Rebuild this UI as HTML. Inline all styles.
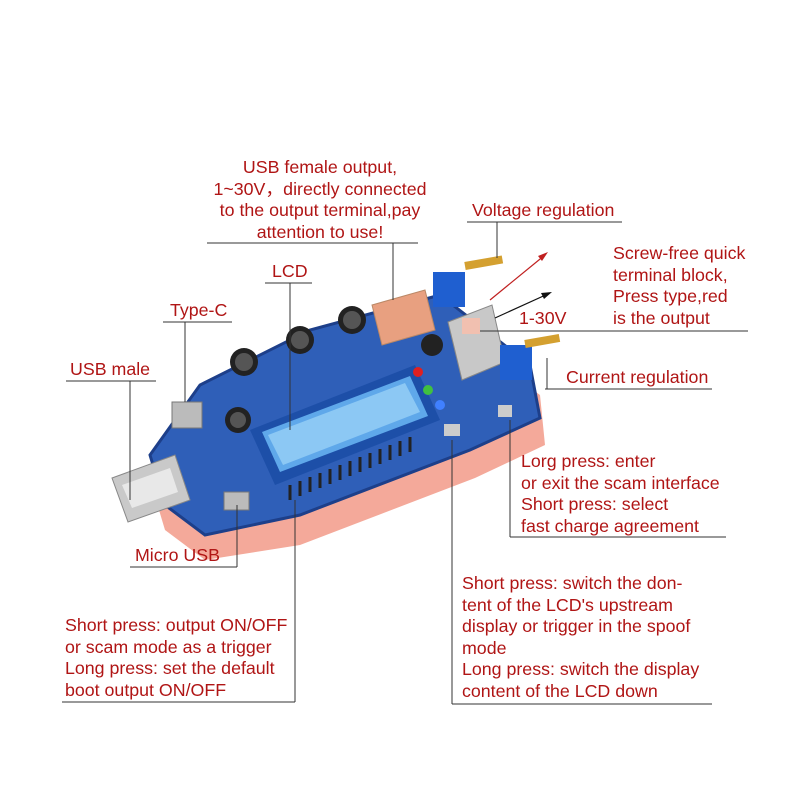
<!DOCTYPE html>
<html><head><meta charset="utf-8"><style>
body{margin:0;background:#fff;}
.w{position:relative;width:800px;height:800px;overflow:hidden;font-family:"Liberation Sans",sans-serif;}
.t{position:absolute;color:#b01515;font-size:17.8px;line-height:21.5px;white-space:nowrap;}
</style></head><body><div class="w">
<svg width="800" height="800" style="position:absolute;left:0;top:0">
<polygon points="150,480 205,415 315,355 445,325 540,395 545,445 475,478 300,545 205,560 165,530" fill="#f4a99a"/>
<polygon points="150,455 200,385 310,330 440,295 530,365 540,418 470,450 300,515 205,535 165,505" fill="#2f5fb8"/>
<polygon points="150,455 200,385 310,330 440,295 530,365 540,418 470,450 300,515 205,535 165,505" fill="none" stroke="#1d3f8a" stroke-width="3"/>
<polygon points="112,478 175,455 190,500 128,522" fill="#c9c9c9" stroke="#888"/>
<polygon points="122,485 170,468 178,492 132,508" fill="#e8e8e8"/>
<polygon points="250,430 415,365 440,420 275,485" fill="#1d4fa8"/>
<polygon points="262,432 410,376 428,416 280,472" fill="#5fa8ea"/>
<polygon points="268,435 405,383 420,412 283,465" fill="#8cc8f4"/>
<g stroke="#222" stroke-width="3">
<line x1="290" y1="485" x2="290" y2="500"/><line x1="300" y1="481" x2="300" y2="496"/><line x1="310" y1="477" x2="310" y2="492"/><line x1="320" y1="473" x2="320" y2="488"/><line x1="330" y1="469" x2="330" y2="484"/><line x1="340" y1="465" x2="340" y2="480"/><line x1="350" y1="461" x2="350" y2="476"/><line x1="360" y1="457" x2="360" y2="472"/><line x1="370" y1="453" x2="370" y2="468"/><line x1="380" y1="449" x2="380" y2="464"/><line x1="390" y1="445" x2="390" y2="460"/><line x1="400" y1="441" x2="400" y2="456"/><line x1="410" y1="437" x2="410" y2="452"/>
</g>
<circle cx="244" cy="362" r="14" fill="#222"/><circle cx="244" cy="362" r="9" fill="#555"/>
<circle cx="300" cy="340" r="14" fill="#222"/><circle cx="300" cy="340" r="9" fill="#555"/>
<circle cx="352" cy="320" r="14" fill="#222"/><circle cx="352" cy="320" r="9" fill="#555"/>
<circle cx="238" cy="420" r="13" fill="#222"/><circle cx="238" cy="420" r="8" fill="#555"/>
<circle cx="432" cy="345" r="11" fill="#222"/>
<polygon points="372,305 425,290 435,330 382,345" fill="#e8a080" stroke="#b86"/>
<polygon points="448,322 492,305 505,362 462,380" fill="#c8c8c8" stroke="#888"/>
<rect x="462" y="318" width="18" height="16" fill="#f1c0b0"/>
<rect x="433" y="272" width="32" height="35" fill="#1f5fd0"/>
<rect x="465" y="262" width="38" height="8" fill="#d4a030" transform="rotate(-10 465 266)"/>
<rect x="500" y="345" width="32" height="35" fill="#1f5fd0"/>
<rect x="525" y="340" width="35" height="8" fill="#d4a030" transform="rotate(-10 525 344)"/>
<circle cx="418" cy="372" r="5" fill="#e02020"/><circle cx="428" cy="390" r="5" fill="#40c040"/><circle cx="440" cy="405" r="5" fill="#4080ff"/>
<rect x="172" y="402" width="30" height="26" fill="#bbb" stroke="#777"/>
<rect x="224" y="492" width="25" height="18" fill="#bbb" stroke="#777"/>
<rect x="444" y="424" width="16" height="12" fill="#ccc"/>
<rect x="498" y="405" width="14" height="12" fill="#ccc"/>
<line x1="490" y1="300" x2="545" y2="255" stroke="#c02020" stroke-width="1.2"/>
<polygon points="548,252 538,256 542,261" fill="#c02020"/>
<line x1="495" y1="318" x2="550" y2="293" stroke="#111" stroke-width="1.2"/>
<polygon points="552,292 541,293 544,299" fill="#111"/>
<g stroke="#333" stroke-width="1" fill="none">
<polyline points="207,243 418,243"/><line x1="393" y1="243" x2="393" y2="300"/>
<polyline points="467,222 622,222"/><line x1="497" y1="222" x2="497" y2="258"/>
<polyline points="480,331 748,331"/>
<polyline points="265,283 312,283"/><line x1="290" y1="283" x2="290" y2="430"/>
<polyline points="163,322 232,322"/><line x1="185" y1="322" x2="185" y2="402"/>
<polyline points="66,381 156,381"/><line x1="130" y1="381" x2="130" y2="500"/>
<polyline points="545,389 712,389"/><line x1="547" y1="389" x2="547" y2="358"/>
<polyline points="510,537 726,537"/><line x1="510" y1="537" x2="510" y2="420"/>
<polyline points="130,567 237,567"/><line x1="237" y1="567" x2="237" y2="505"/>
<polyline points="62,702 295,702"/><line x1="295" y1="702" x2="295" y2="500"/>
<polyline points="452,704 712,704"/><line x1="452" y1="704" x2="452" y2="440"/>
</g>
</svg>
<div class="t" style="left:200px;top:157px;text-align:center;width:240px">USB female output,<br>1~30V，directly connected<br>to the output terminal,pay<br>attention to use!</div>
<div class="t" style="left:472px;top:200px">Voltage regulation</div>
<div class="t" style="left:613px;top:243px">Screw-free quick<br>terminal block,<br>Press type,red<br>is the output</div>
<div class="t" style="left:519px;top:308px">1-30V</div>
<div class="t" style="left:272px;top:261px">LCD</div>
<div class="t" style="left:170px;top:300px">Type-C</div>
<div class="t" style="left:70px;top:359px">USB male</div>
<div class="t" style="left:566px;top:367px">Current regulation</div>
<div class="t" style="left:521px;top:451px">Lorg press: enter<br>or exit the scam interface<br>Short press: select<br>fast charge agreement</div>
<div class="t" style="left:135px;top:545px">Micro USB</div>
<div class="t" style="left:65px;top:615px">Short press: output ON/OFF<br>or scam mode as a trigger<br>Long press: set the default<br>boot output ON/OFF</div>
<div class="t" style="left:462px;top:573px">Short press: switch the don-<br>tent of the LCD's upstream<br>display or trigger in the spoof<br>mode<br>Long press: switch the display<br>content of the LCD down</div>
</div></body></html>
